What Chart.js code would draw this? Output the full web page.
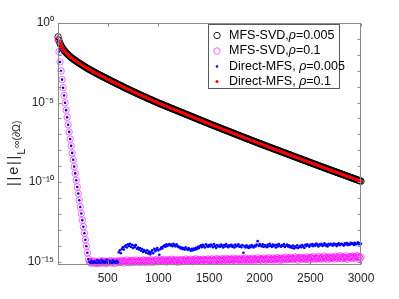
<!DOCTYPE html>
<html><head><meta charset="utf-8">
<script src="https://cdn.jsdelivr.net/npm/chart.js@4/dist/chart.umd.min.js"></script>
<style>html,body{margin:0;padding:0;background:#fff;}canvas{display:block;}</style>
</head><body>
<canvas id="c" width="399" height="299"></canvas>
<script>
// number of collocation points N
const nValues = [
10,20,30,40,50,60,70,80,90,100,110,120,130,140,150,160,170,180,190,200,
210,220,230,240,250,260,270,280,290,300,310,320,330,340,350,360,370,380,390,400,
410,420,430,440,450,460,470,480,490,500,510,520,530,540,550,560,570,580,590,600,
610,620,630,640,650,660,670,680,690,700,710,720,730,740,750,760,770,780,790,800,
810,820,830,840,850,860,870,880,890,900,910,920,930,940,950,960,970,980,990,1000,
1010,1020,1030,1040,1050,1060,1070,1080,1090,1100,1110,1120,1130,1140,1150,1160,1170,1180,1190,1200,
1210,1220,1230,1240,1250,1260,1270,1280,1290,1300,1310,1320,1330,1340,1350,1360,1370,1380,1390,1400,
1410,1420,1430,1440,1450,1460,1470,1480,1490,1500,1510,1520,1530,1540,1550,1560,1570,1580,1590,1600,
1610,1620,1630,1640,1650,1660,1670,1680,1690,1700,1710,1720,1730,1740,1750,1760,1770,1780,1790,1800,
1810,1820,1830,1840,1850,1860,1870,1880,1890,1900,1910,1920,1930,1940,1950,1960,1970,1980,1990,2000,
2010,2020,2030,2040,2050,2060,2070,2080,2090,2100,2110,2120,2130,2140,2150,2160,2170,2180,2190,2200,
2210,2220,2230,2240,2250,2260,2270,2280,2290,2300,2310,2320,2330,2340,2350,2360,2370,2380,2390,2400,
2410,2420,2430,2440,2450,2460,2470,2480,2490,2500,2510,2520,2530,2540,2550,2560,2570,2580,2590,2600,
2610,2620,2630,2640,2650,2660,2670,2680,2690,2700,2710,2720,2730,2740,2750,2760,2770,2780,2790,2800,
2810,2820,2830,2840,2850,2860,2870,2880,2890,2900,2910,2920,2930,2940,2950,2960,2970,2980,2990,3000
];

// log10 of error, slow curve (MFS-SVD rho=0.005 and Direct-MFS rho=0.1 coincide)
const slowLog = [
-0.87,-1.10,-1.28,-1.42,-1.53,-1.63,-1.72,-1.80,-1.87,-1.94,
-2.00,-2.06,-2.12,-2.17,-2.22,-2.27,-2.31,-2.36,-2.40,-2.45,
-2.49,-2.53,-2.57,-2.61,-2.65,-2.69,-2.73,-2.77,-2.81,-2.85,
-2.89,-2.92,-2.96,-2.99,-3.03,-3.06,-3.10,-3.13,-3.17,-3.20,
-3.23,-3.27,-3.30,-3.33,-3.37,-3.40,-3.43,-3.46,-3.50,-3.53,
-3.56,-3.59,-3.63,-3.66,-3.69,-3.72,-3.75,-3.79,-3.82,-3.85,
-3.88,-3.91,-3.94,-3.97,-4.01,-4.04,-4.07,-4.10,-4.13,-4.16,
-4.19,-4.22,-4.25,-4.28,-4.31,-4.34,-4.37,-4.40,-4.43,-4.46,
-4.49,-4.52,-4.55,-4.58,-4.61,-4.63,-4.66,-4.69,-4.72,-4.75,
-4.78,-4.81,-4.83,-4.86,-4.89,-4.92,-4.95,-4.97,-5.00,-5.03,
-5.06,-5.08,-5.11,-5.13,-5.16,-5.19,-5.21,-5.24,-5.26,-5.29,
-5.32,-5.34,-5.37,-5.39,-5.42,-5.45,-5.47,-5.50,-5.52,-5.55,
-5.58,-5.60,-5.63,-5.65,-5.68,-5.71,-5.73,-5.76,-5.78,-5.81,
-5.84,-5.86,-5.89,-5.91,-5.94,-5.97,-5.99,-6.02,-6.04,-6.07,
-6.10,-6.12,-6.15,-6.17,-6.20,-6.23,-6.25,-6.28,-6.30,-6.33,
-6.36,-6.38,-6.41,-6.43,-6.46,-6.48,-6.51,-6.53,-6.56,-6.58,
-6.61,-6.63,-6.66,-6.68,-6.71,-6.73,-6.76,-6.78,-6.81,-6.83,
-6.86,-6.88,-6.91,-6.93,-6.96,-6.98,-7.01,-7.03,-7.06,-7.08,
-7.11,-7.13,-7.16,-7.18,-7.21,-7.23,-7.26,-7.28,-7.31,-7.33,
-7.36,-7.38,-7.41,-7.43,-7.46,-7.48,-7.51,-7.53,-7.56,-7.58,
-7.60,-7.63,-7.65,-7.68,-7.70,-7.72,-7.75,-7.77,-7.80,-7.82,
-7.84,-7.87,-7.89,-7.92,-7.94,-7.96,-7.99,-8.01,-8.04,-8.06,
-8.08,-8.11,-8.13,-8.16,-8.18,-8.20,-8.23,-8.25,-8.28,-8.30,
-8.32,-8.35,-8.37,-8.40,-8.42,-8.44,-8.47,-8.49,-8.52,-8.54,
-8.56,-8.59,-8.61,-8.64,-8.66,-8.68,-8.71,-8.73,-8.76,-8.78,
-8.80,-8.83,-8.85,-8.87,-8.90,-8.92,-8.94,-8.97,-8.99,-9.02,
-9.04,-9.06,-9.09,-9.11,-9.13,-9.16,-9.18,-9.20,-9.23,-9.25,
-9.27,-9.30,-9.32,-9.34,-9.37,-9.39,-9.41,-9.44,-9.46,-9.48,
-9.51,-9.53,-9.55,-9.58,-9.60,-9.62,-9.65,-9.67,-9.69,-9.72,
-9.74,-9.76,-9.79,-9.81,-9.83,-9.86,-9.88,-9.90,-9.93,-9.95
];

// log10 of error, fast descent shared by magenta circles and blue dots (N = 10..310)
const fastDescentLog = [
-1.07,-1.80,-2.45,-3.02,-3.56,-4.07,-4.56,-5.02,-5.48,-5.93,
-6.40,-6.85,-7.30,-7.73,-8.17,-8.60,-9.03,-9.46,-9.89,-10.31,
-10.73,-11.15,-11.57,-11.98,-12.40,-12.81,-13.22,-13.63,-14.04,-14.45,
-14.85
];

// log10 of error, Direct-MFS rho=0.005 (blue) round-off floor, N = 320..3000
const blueFloorLog = [
-15.02,-15.10,-14.95,-15.08,-15.12,-14.98,-15.05,-15.15,-14.92,
-15.06,-15.00,-15.13,-14.90,-15.04,-14.97,-15.11,-15.02,-14.88,-15.07,
-15.14,-14.95,-15.03,-15.10,-14.93,-15.06,-15.00,-15.12,-14.96,-15.04,
-14.42,-14.30,-14.48,-14.22,-14.10,-14.25,-14.05,-13.98,-14.12,-13.92,
-14.02,-13.88,-14.08,-13.95,-14.15,-14.00,-14.10,-13.96,-14.20,-14.12,
-14.25,-14.15,-14.32,-14.22,-14.40,-14.28,-14.36,-14.45,-14.30,-14.50,
-14.38,-14.55,-14.42,-14.30,-14.48,-14.20,-14.35,-14.25,-14.15,-14.30,
-14.58,-14.22,-14.10,-14.18,-14.05,-13.98,-14.08,-13.92,-14.02,-13.95,
-13.90,-14.00,-13.94,-14.04,-13.88,-13.98,-14.06,-13.92,-14.02,-14.10,
-14.08,-14.18,-14.12,-14.22,-14.15,-14.25,-14.10,-14.20,-14.28,-14.16,
-14.24,-14.32,-14.20,-14.30,-14.18,-14.26,-14.14,-14.22,-14.08,-14.16,
-14.05,-13.98,-14.10,-13.95,-14.04,-14.12,-13.92,-14.02,-14.08,-13.97,
-14.06,-13.94,-14.00,-14.10,-13.90,-14.03,-14.14,-13.96,-14.05,-13.99,
-14.08,-13.93,-14.02,-14.12,-13.97,-14.06,-13.91,-14.04,-14.10,-13.98,
-14.03,-13.95,-14.08,-13.99,-14.12,-13.94,-14.05,-14.00,-13.92,-14.07,
-14.02,-14.10,-13.96,-14.45,-14.05,-14.12,-13.98,-14.08,-14.15,-14.02,
-14.10,-13.96,-14.04,-14.12,-13.99,-14.06,-13.94,-13.72,-14.02,-13.90,
-13.98,-14.05,-13.92,-14.08,-13.96,-14.02,-14.10,-13.94,-14.04,-13.88,
-14.00,-14.08,-13.93,-14.03,-13.97,-14.12,-13.95,-14.06,-13.90,-14.01,
-14.07,-13.96,-14.02,-13.91,-14.09,-14.00,-13.94,-14.05,-13.98,-14.11,
-14.04,-14.14,-14.00,-14.18,-14.06,-14.12,-13.98,-14.15,-14.08,-14.02,
-14.10,-13.97,-14.05,-14.14,-13.95,-14.03,-13.92,-14.01,-14.07,-13.94,
-13.99,-13.90,-14.04,-13.93,-14.00,-13.87,-13.97,-14.06,-13.92,-13.98,
-13.89,-14.02,-13.95,-13.86,-14.00,-13.93,-14.05,-13.90,-13.97,-13.88,
-13.94,-14.01,-13.87,-13.96,-13.90,-14.03,-13.92,-13.85,-13.98,-13.91,
-13.88,-13.95,-14.00,-13.86,-13.93,-13.84,-13.97,-13.89,-13.94,-13.82,
-13.90,-13.85,-13.96,-13.83,-13.92,-13.87,-13.80,-13.91,-13.86,-13.88
];

// log10 of error, MFS-SVD rho=0.1 (magenta) floor, N = 320..3000
const magentaFloorLog = [
-15.00,-15.08,-14.98,-15.12,-15.04,-14.96,-15.10,-15.02,-15.14,
-15.06,-14.97,-15.11,-15.03,-14.95,-15.09,-15.00,-15.13,-15.05,-14.99,
-15.08,-15.01,-14.94,-15.10,-15.04,-14.98,-15.12,-15.02,-14.96,-15.07,
-14.99,-15.06,-14.93,-15.04,-14.97,-15.10,-14.95,-15.02,-14.90,-15.05,
-14.98,-15.08,-14.94,-15.01,-14.92,-15.06,-14.99,-14.91,-15.04,-14.96,
-15.03,-14.93,-15.07,-14.97,-14.90,-15.02,-14.95,-15.06,-14.92,-14.99,
-14.94,-15.04,-14.89,-14.98,-15.05,-14.93,-15.00,-14.87,-14.96,-15.03,
-14.95,-14.88,-15.01,-14.92,-14.99,-14.86,-14.97,-15.04,-14.91,-14.96,
-14.90,-15.00,-14.85,-14.94,-15.02,-14.89,-14.97,-14.93,-15.05,-14.88,
-14.96,-14.91,-15.01,-14.87,-14.95,-14.99,-14.84,-14.93,-15.00,-14.90,
-14.97,-14.86,-14.94,-15.02,-14.89,-14.95,-14.83,-14.98,-14.92,-14.87,
-14.95,-14.90,-14.99,-14.85,-14.93,-14.88,-15.00,-14.91,-14.84,-14.96,
-14.89,-14.95,-14.83,-14.92,-14.98,-14.86,-14.94,-14.81,-14.90,-14.97,
-14.87,-14.93,-14.82,-14.96,-14.88,-14.91,-14.80,-14.94,-14.86,-14.90,
-14.84,-14.95,-14.88,-14.79,-14.92,-14.85,-14.97,-14.83,-14.90,-14.86,
-14.93,-14.81,-14.89,-14.95,-14.84,-14.78,-14.91,-14.87,-14.94,-14.82,
-14.88,-14.92,-14.80,-14.86,-14.95,-14.83,-14.89,-14.77,-14.90,-14.85,
-14.82,-14.91,-14.86,-14.79,-14.88,-14.93,-14.81,-14.87,-14.76,-14.90,
-14.84,-14.89,-14.78,-14.92,-14.83,-14.86,-14.75,-14.88,-14.81,-14.94,
-14.79,-14.85,-14.90,-14.77,-14.84,-14.72,-14.88,-14.80,-14.86,-14.74,
-14.83,-14.78,-14.89,-14.81,-14.70,-14.85,-14.77,-14.92,-14.80,-14.75,
-14.86,-14.73,-14.82,-14.79,-14.88,-14.71,-14.84,-14.76,-14.90,-14.78,
-14.74,-14.83,-14.69,-14.80,-14.87,-14.75,-14.82,-14.68,-14.79,-14.85,
-14.77,-14.72,-14.84,-14.66,-14.80,-14.75,-14.88,-14.71,-14.78,-14.82,
-14.70,-14.79,-14.74,-14.85,-14.67,-14.76,-14.81,-14.72,-14.64,-14.78,
-14.83,-14.69,-14.75,-14.80,-14.65,-14.77,-14.86,-14.71,-14.74,-14.68,
-14.79,-14.66,-14.73,-14.82,-14.70,-14.63,-14.76,-14.69,-14.80,-14.72
];

const seriesLabels = ['MFS-SVD,ρ=0.005', 'MFS-SVD,ρ=0.1', 'Direct-MFS, ρ=0.005', 'Direct-MFS, ρ=0.1'];
const xTickValues = [500, 1000, 1500, 2000, 2500, 3000];
const yTickExponents = [0,-1,-2,-3,-4,-5,-6,-7,-8,-9,-10,-11,-12,-13,-14,-15];
const yTickLabels = ['10⁰','','','','','10⁻⁵','','','','','10⁻¹⁰','','','','','10⁻¹⁵'];

const FONT = '"Liberation Sans", Arial, Helvetica, sans-serif';
const toPoints = arr => nValues.map((n, i) => ({x: n, y: Math.pow(10, arr[i])}));
const magentaLog = fastDescentLog.concat(magentaFloorLog);
const blueLog = fastDescentLog.concat(blueFloorLog);

const framePlugin = {
  id: 'frame',
  afterDatasetsDraw(chart) {
    const {ctx, chartArea: a, scales: {x, y}} = chart;
    ctx.save();
    ctx.strokeStyle = '#8a8a8a';
    ctx.lineWidth = 1;
    const L = Math.round(a.left) + 0.5, R = Math.round(a.right) - 0.5;
    const T = Math.round(a.top) + 0.5, B = Math.round(a.bottom) - 0.5;
    ctx.strokeRect(L, T, R - L, B - T);
    ctx.beginPath();
    x.ticks.forEach(t => {
      const px = Math.round(x.getPixelForValue(t.value)) + 0.5;
      ctx.moveTo(px, B); ctx.lineTo(px, B - 3);
      ctx.moveTo(px, T); ctx.lineTo(px, T + 3);
    });
    y.ticks.forEach(t => {
      const py = Math.round(y.getPixelForValue(t.value)) + 0.5;
      ctx.moveTo(L, py); ctx.lineTo(L + 3, py);
      ctx.moveTo(R, py); ctx.lineTo(R - 3, py);
    });
    ctx.stroke();
    ctx.restore();
  }
};

const legendPlugin = {
  id: 'legendBox',
  afterDraw(chart) {
    const ctx = chart.ctx;
    ctx.save();
    ctx.fillStyle = '#fff';
    ctx.fillRect(208.5, 24.5, 131, 64);
    ctx.strokeStyle = '#5a5a5a';
    ctx.lineWidth = 1;
    ctx.strokeRect(208.5, 24.5, 131, 64);
    const rows = [35.5, 51, 66.5, 81.5];
    chart.data.datasets.forEach((ds, i) => {
      const yy = rows[i];
      ctx.beginPath();
      ctx.arc(217, yy, ds.pointRadius, 0, Math.PI * 2);
      if (ds.pointBorderWidth > 0) {
        ctx.lineWidth = ds.pointBorderWidth;
        ctx.strokeStyle = ds.pointBorderColor;
        ctx.stroke();
      } else {
        ctx.fillStyle = ds.pointBackgroundColor;
        ctx.fill();
      }
      ctx.fillStyle = '#000';
      ctx.textBaseline = 'middle';
      let xx = 229;
      const parts = ds.label.split('ρ');
      parts.forEach((p, k) => {
        ctx.font = '12.5px ' + FONT;
        ctx.fillText(p, xx, yy);
        xx += ctx.measureText(p).width;
        if (k < parts.length - 1) {
          ctx.font = 'italic 12.5px ' + FONT;
          ctx.fillText('ρ', xx, yy);
          xx += ctx.measureText('ρ').width;
        }
      });
    });
    ctx.restore();
  }
};

const yTitlePlugin = {
  id: 'yTitle',
  afterDraw(chart) {
    const ctx = chart.ctx;
    ctx.save();
    ctx.translate(17.5, 186);
    ctx.rotate(-Math.PI / 2);
    ctx.fillStyle = '#262626';
    ctx.textBaseline = 'alphabetic';
    ctx.font = '14.5px ' + FONT;
    let p = 0;
    for (const ch of '||e||') {
      ctx.fillText(ch, p, 0);
      p += ctx.measureText(ch).width + 1.8;
    }
    p -= 0.8;
    ctx.font = '11px ' + FONT;
    ctx.fillText('L', p, 7.5);
    p += ctx.measureText('L').width + 0.5;
    ctx.font = '10.5px ' + FONT;
    ctx.fillText('∞(∂Ω)', p, 2.5);
    ctx.restore();
  }
};

new Chart(document.getElementById('c'), {
  type: 'scatter',
  data: {
    datasets: [
      {label: seriesLabels[0], data: toPoints(slowLog), showLine: false, order: 3,
       pointStyle: 'circle', pointRadius: 3.2, pointBorderWidth: 0.9,
       pointBorderColor: '#000000', pointBackgroundColor: 'rgba(0,0,0,0)',
       borderColor: '#000000', backgroundColor: 'rgba(0,0,0,0)'},
      {label: seriesLabels[1], data: toPoints(magentaLog), showLine: false, order: 2,
       pointStyle: 'circle', pointRadius: 3.2, pointBorderWidth: 0.6,
       pointBorderColor: '#ff00ff', pointBackgroundColor: 'rgba(0,0,0,0)',
       borderColor: '#ff00ff', backgroundColor: 'rgba(0,0,0,0)'},
      {label: seriesLabels[2], data: toPoints(blueLog), showLine: false, order: 1,
       pointStyle: 'circle', pointRadius: 1.3, pointBorderWidth: 0,
       pointBorderColor: '#0000ff', pointBackgroundColor: '#0000ff',
       borderColor: '#0000ff', backgroundColor: '#0000ff'},
      {label: seriesLabels[3], data: toPoints(slowLog), showLine: false, order: 0,
       pointStyle: 'circle', pointRadius: 1.5, pointBorderWidth: 0,
       pointBorderColor: '#ff0000', pointBackgroundColor: '#ff0000',
       borderColor: '#ff0000', backgroundColor: '#ff0000'}
    ]
  },
  options: {
    responsive: false,
    animation: false,
    devicePixelRatio: 1,
    clip: false,
    layout: {padding: {left: 0, right: 38, top: 23, bottom: 0}},
    plugins: {legend: {display: false}, tooltip: {enabled: false}},
    scales: {
      x: {
        type: 'linear', min: 10, max: 3000,
        afterBuildTicks: s => { s.ticks = xTickValues.map(v => ({value: v})); },
        afterFit: s => { s.height = 34; },
        grid: {display: false, drawTicks: false},
        border: {display: false},
        ticks: {color: '#262626', font: {family: FONT, size: 12}, padding: 6,
                maxRotation: 0, autoSkip: false, callback: v => String(v)}
      },
      y: {
        type: 'logarithmic', min: Math.pow(10, -15.22), max: 1,
        afterBuildTicks: s => { s.ticks = yTickExponents.map(e => ({value: Math.pow(10, e)})); },
        afterFit: s => { s.width = 58; },
        grid: {display: false, drawTicks: false},
        border: {display: false},
        ticks: {color: '#262626', font: {family: FONT, size: 12}, padding: 4,
                autoSkip: false, callback: (v, i) => yTickLabels[i]}
      }
    }
  },
  plugins: [framePlugin, legendPlugin, yTitlePlugin]
});
</script>
</body></html>
